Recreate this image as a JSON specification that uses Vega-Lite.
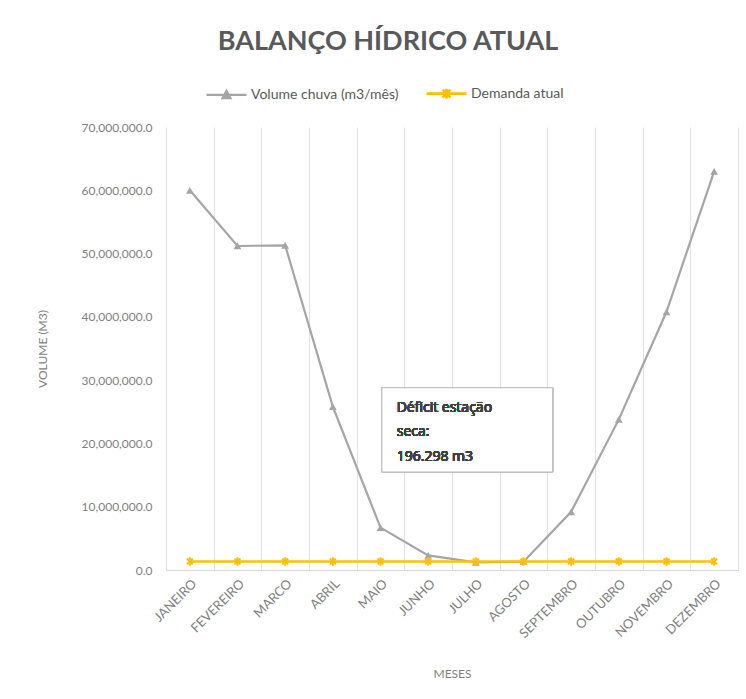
{
  "$schema": "https://vega.github.io/schema/vega-lite/v6.json",
  "width": 572,
  "height": 443,
  "autosize": {"type": "none"},
  "padding": {"left": 166, "top": 127, "right": 8, "bottom": 129},
  "background": "white",
  "title": {
    "text": "BALANÇO HÍDRICO ATUAL",
    "font": "Lato",
    "fontSize": 27,
    "fontWeight": "bold",
    "color": "#595959",
    "anchor": "middle",
    "dx": -64,
    "offset": 16
  },
  "config": {
    "font": "Lato",
    "view": {"stroke": null},
    "legend": {"labelFont": "Lato"}
  },
  "data": {
    "values": [
      {"mes": "JANEIRO", "serie": "Volume chuva (m3/mês)", "valor": 60000000},
      {"mes": "FEVEREIRO", "serie": "Volume chuva (m3/mês)", "valor": 51200000},
      {"mes": "MARCO", "serie": "Volume chuva (m3/mês)", "valor": 51300000},
      {"mes": "ABRIL", "serie": "Volume chuva (m3/mês)", "valor": 25800000},
      {"mes": "MAIO", "serie": "Volume chuva (m3/mês)", "valor": 6700000},
      {"mes": "JUNHO", "serie": "Volume chuva (m3/mês)", "valor": 2300000},
      {"mes": "JULHO", "serie": "Volume chuva (m3/mês)", "valor": 1200000},
      {"mes": "AGOSTO", "serie": "Volume chuva (m3/mês)", "valor": 1304000},
      {"mes": "SEPTEMBRO", "serie": "Volume chuva (m3/mês)", "valor": 9200000},
      {"mes": "OUTUBRO", "serie": "Volume chuva (m3/mês)", "valor": 23800000},
      {"mes": "NOVEMBRO", "serie": "Volume chuva (m3/mês)", "valor": 40800000},
      {"mes": "DEZEMBRO", "serie": "Volume chuva (m3/mês)", "valor": 63000000},
      {"mes": "JANEIRO", "serie": "Demanda atual", "valor": 1350000},
      {"mes": "FEVEREIRO", "serie": "Demanda atual", "valor": 1350000},
      {"mes": "MARCO", "serie": "Demanda atual", "valor": 1350000},
      {"mes": "ABRIL", "serie": "Demanda atual", "valor": 1350000},
      {"mes": "MAIO", "serie": "Demanda atual", "valor": 1350000},
      {"mes": "JUNHO", "serie": "Demanda atual", "valor": 1350000},
      {"mes": "JULHO", "serie": "Demanda atual", "valor": 1350000},
      {"mes": "AGOSTO", "serie": "Demanda atual", "valor": 1350000},
      {"mes": "SEPTEMBRO", "serie": "Demanda atual", "valor": 1350000},
      {"mes": "OUTUBRO", "serie": "Demanda atual", "valor": 1350000},
      {"mes": "NOVEMBRO", "serie": "Demanda atual", "valor": 1350000},
      {"mes": "DEZEMBRO", "serie": "Demanda atual", "valor": 1350000}
    ]
  },
  "layer": [
    {
      "encoding": {
        "x": {
          "field": "mes",
          "type": "nominal",
          "sort": ["JANEIRO", "FEVEREIRO", "MARCO", "ABRIL", "MAIO", "JUNHO", "JULHO", "AGOSTO", "SEPTEMBRO", "OUTUBRO", "NOVEMBRO", "DEZEMBRO"],
          "scale": {"paddingInner": 0, "paddingOuter": 0},
          "axis": {
            "title": "MESES",
            "labelAngle": -45,
            "labelFont": "Lato",
            "labelFontSize": 13,
            "labelColor": "#7f7f7f",
            "labelPadding": 7,
            "domainColor": "#d9d9d9",
            "ticks": false,
            "grid": true,
            "gridColor": "#e3e3e3",
            "tickBand": "extent",
            "titleFont": "Lato",
            "titleFontSize": 12,
            "titleFontWeight": "normal",
            "titleColor": "#7f7f7f",
            "titlePadding": 28
          }
        },
        "y": {
          "field": "valor",
          "type": "quantitative",
          "scale": {"domain": [0, 70000000]},
          "axis": {
            "title": "VOLUME (M3)",
            "values": [0, 10000000, 20000000, 30000000, 40000000, 50000000, 60000000, 70000000],
            "format": ",.1f",
            "domain": false,
            "ticks": false,
            "grid": false,
            "labelFont": "Lato",
            "labelFontSize": 12,
            "labelColor": "#7f7f7f",
            "labelPadding": 14,
            "titleFont": "Lato",
            "titleFontSize": 12,
            "titleFontWeight": "normal",
            "titleColor": "#7f7f7f",
            "titlePadding": 32
          }
        }
      },
      "layer": [
        {
          "mark": {"type": "line", "strokeCap": "round"},
          "encoding": {
            "color": {
              "field": "serie",
              "type": "nominal",
              "scale": {"domain": ["Volume chuva (m3/mês)", "Demanda atual"], "range": ["#a5a5a5", "#ffc000"]},
              "legend": {
                "title": null,
                "orient": "none",
                "legendX": 39,
                "legendY": -55,
                "direction": "horizontal",
                "symbolSize": 1600,
                "symbolStrokeWidth": 2,
                "labelFontSize": 14,
                "labelColor": "#595959",
                "labelOffset": 3,
                "columnPadding": 22,
                "encode": {
                  "symbols": {
                    "update": {
                      "shape": {"signal": "datum.value === 'Demanda atual' ? 'M-1,0L1,0M-0.2,-0.2L0.2,0.2M-0.2,0.2L0.2,-0.2M0,-0.25L0,0.25' : 'M-1,0L1,0M-0.2,0.17L0,-0.2L0.2,0.17Z'"},
                      "fill": {"signal": "datum.value === 'Demanda atual' ? 'transparent' : '#a5a5a5'"}
                    }
                  }
                }
              }
            },
            "strokeWidth": {
              "field": "serie",
              "type": "nominal",
              "scale": {"domain": ["Volume chuva (m3/mês)", "Demanda atual"], "range": [2.2, 2.6]},
              "legend": null
            }
          }
        },
        {
          "transform": [{"filter": "datum.serie === 'Volume chuva (m3/mês)'"}],
          "mark": {"type": "point", "shape": "triangle-up", "filled": true, "color": "#a5a5a5", "size": 60, "opacity": 1}
        },
        {
          "transform": [{"filter": "datum.serie === 'Demanda atual'"}],
          "mark": {"type": "point", "shape": "M-0.7,-0.7L0.7,0.7M-0.7,0.7L0.7,-0.7M0,-1L0,1", "filled": false, "color": "#ffc000", "strokeWidth": 2, "size": 70, "opacity": 1}
        }
      ]
    },
    {
      "layer": [
        {
          "mark": {"type": "rect", "fill": "white", "stroke": "#bfbfbf", "strokeWidth": 1},
          "encoding": {
            "x": {"datum": 4.53, "type": "quantitative", "scale": {"domain": [0, 12]}, "axis": null},
            "x2": {"datum": 8.11},
            "y": {"datum": 28800000, "type": "quantitative"},
            "y2": {"datum": 15500000}
          }
        },
        {
          "mark": {"type": "text", "text": ["Déficit estação", "seca:", "196.298 m3"], "align": "left", "baseline": "middle", "font": "Open Sans", "fontSize": 14, "fontWeight": "normal", "lineHeight": 24.5, "color": "#404040"},
          "encoding": {
            "x": {"datum": 4.84, "type": "quantitative", "scale": {"domain": [0, 12]}, "axis": null},
            "y": {"datum": 25600000, "type": "quantitative"}
          }
        }
      ]
    }
  ],
  "resolve": {"scale": {"x": "independent"}}
}
